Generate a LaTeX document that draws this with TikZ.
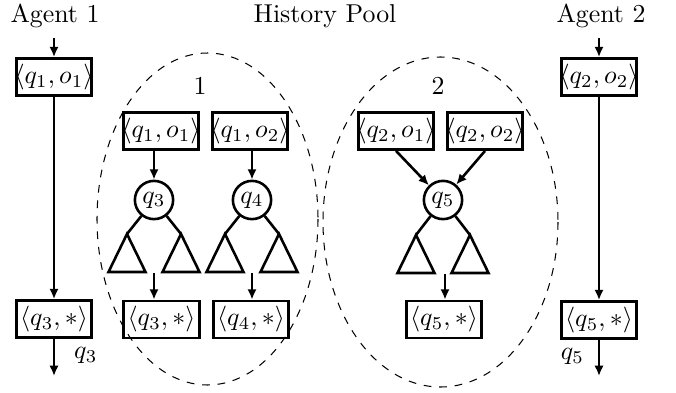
\documentclass[tikz,border=0pt]{standalone}
\usetikzlibrary{arrows.meta}
\newcommand\bxt[1]{\makebox[29.2pt]{$#1$}}
\begin{document}
\begin{tikzpicture}[x=0.387pt,y=-0.387pt,
  box/.style={draw,line width=1pt,minimum width=29.2pt,minimum height=14.4pt,inner sep=0pt},
  qc/.style={draw,circle,line width=1pt,minimum size=14.8pt,inner sep=0pt},
  arr/.style={line width=1pt,-{Latex[length=4pt,width=3.6pt]}},
  ln/.style={line width=1pt},
  pool/.style={draw,dashed,line width=0.4pt},
  tri/.style={draw,line width=1pt,line join=miter}]
\useasboundingbox (0,0) rectangle (676,393);
% titles
\node (t1) at (55,16) {Agent 1};
\node (tp) at (325,16) {History Pool};
\node (t2) at (601,16) {Agent 2};
% pools
\draw[pool] (207.5,219) ellipse [x radius=110.5, y radius=166];
\draw[pool] (440.5,222) ellipse [x radius=117.5, y radius=165];
\node (l1) at (200,86) {1};
\node (l2) at (438,86) {2};
% agent 1
\coordinate (a1in) at (54,38);
\node[box] (a1s) at (54,77) {\bxt{\langle q_1,o_1\rangle}};
\node[box] (a1e) at (54,319) {\bxt{\langle q_3,*\rangle}};
\coordinate (a1out) at (54,376);
\draw[arr] (a1in) -- (a1s);
\draw[arr] (a1s) -- (a1e);
\draw[arr] (a1e) -- node[right,pos=0.45,xshift=4pt] {$q_3$} (a1out);
% agent 2
\coordinate (a2in) at (599,38);
\node[box] (a2s) at (599,77) {\bxt{\langle q_2,o_2\rangle}};
\node[box] (a2e) at (599,320) {\bxt{\langle q_5,*\rangle}};
\coordinate (a2out) at (599,376);
\draw[arr] (a2in) -- (a2s);
\draw[arr] (a2s) -- (a2e);
\draw[arr] (a2e) -- node[left,pos=0.45,xshift=-2pt] {$q_5$} (a2out);
% pool 1
\node[box] (p11) at (161,131) {\bxt{\langle q_1,o_1\rangle}};
\node[box] (p12) at (250,131) {\bxt{\langle q_1,o_2\rangle}};
\node[qc] (q3) at (154,200) {$q_3$};
\node[qc] (q4) at (252,200) {$q_4$};
\draw[arr] (p11.south -| q3) -- (q3);
\draw[arr] (p12.south -| q4) -- (q4);
\foreach \c/\n in {154/q3,252/q4}{
  \draw[ln] (\n) -- (\c-27,234);
  \draw[ln] (\n) -- (\c+27,234);
  \draw[tri] (\c-27,234) -- (\c-45.5,272) -- (\c-8.5,272) -- cycle;
  \draw[tri] (\c+27,234) -- (\c+8.5,272) -- (\c+45.5,272) -- cycle;
}
\coordinate (o3) at (154,273);
\coordinate (o4) at (252,273);
\node[box] (r3) at (161.5,319.5) {\bxt{\langle q_3,*\rangle}};
\node[box] (r4) at (251,319.5) {\bxt{\langle q_4,*\rangle}};
\draw[arr] (o3) -- (o3 |- r3.north);
\draw[arr] (o4) -- (o4 |- r4.north);
% pool 2
\node[box] (p21) at (396,131) {\bxt{\langle q_2,o_1\rangle}};
\node[box] (p22) at (485,131) {\bxt{\langle q_2,o_2\rangle}};
\node[qc] (q5) at (443,200) {$q_5$};
\draw[arr] (p21.south) -- (q5);
\draw[arr] (p22.south) -- (q5);
\draw[ln] (q5) -- (416,235);
\draw[ln] (q5) -- (470,235);
\draw[tri] (416,235) -- (397.5,273) -- (434.5,273) -- cycle;
\draw[tri] (470,235) -- (451.5,273) -- (488.5,273) -- cycle;
\coordinate (o5) at (445,274);
\node[box] (r5) at (444,319.5) {\bxt{\langle q_5,*\rangle}};
\draw[arr] (o5) -- (o5 |- r5.north);
\end{tikzpicture}
\end{document}
